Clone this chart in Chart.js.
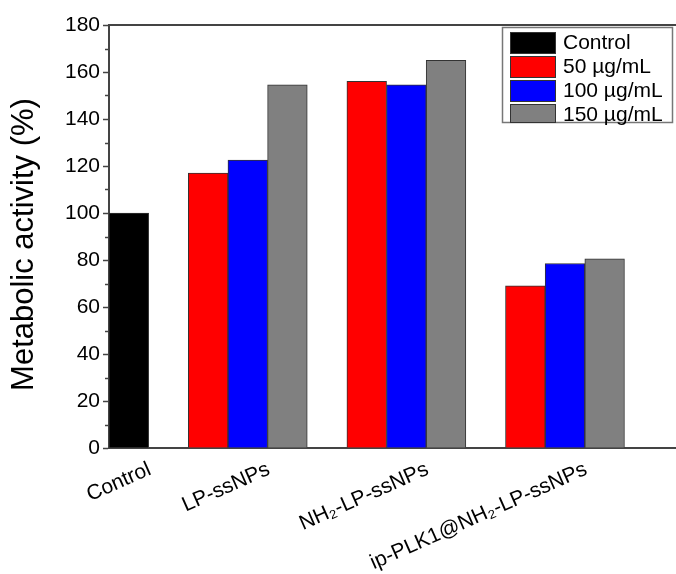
<!DOCTYPE html>
<html>
<head>
<meta charset="utf-8">
<script src="https://cdn.jsdelivr.net/npm/chart.js@4"></script>
<style>
  html, body { margin: 0; padding: 0; background: #fff; }
  #wrap { width: 676px; height: 574px; }
</style>
</head>
<body>
<div id="wrap"><canvas id="chart" width="676" height="574"></canvas></div>
<script>
// Data
const groups = ['Control', 'LP-ssNPs', 'NH₂-LP-ssNPs', 'ip-PLK1@NH₂-LP-ssNPs'];
const seriesLabels = ['Control', '50 µg/mL', '100 µg/mL', '150 µg/mL'];
const controlValues = [100];
const dose50 = [117, 156, 69];
const dose100 = [122.5, 154.5, 78.5];
const dose150 = [154.5, 165, 80.5];
const yTicks = [0, 20, 40, 60, 80, 100, 120, 140, 160, 180];
const yTitle = 'Metabolic activity (%)';

const colors = ['#000000', '#ff0000', '#0000ff', '#808080'];
const FONT = 'Liberation Sans, Arial, sans-serif';

// Slot layout: control bar alone, then groups of three bars with a one-bar gap
const controlSlot = () => 0.5;
const treatedSlot = (g, d) => 2.5 + 4 * g + d;
const groupCenters = [controlSlot(), ...[0, 1, 2].map((g) => treatedSlot(g, 1))];

const toPoints = (values, d) => values.map((y, g) => ({ x: treatedSlot(g, d), y }));

const barStyle = (i) => ({
  backgroundColor: colors[i],
  borderColor: '#333',
  borderWidth: 1,
  grouped: false,
  barPercentage: 1,
  categoryPercentage: 1,
});

// Legend box inside the plot, top frame line, minor y ticks and the y title
const extras = {
  id: 'extras',
  afterDraw(chart) {
    const { ctx, chartArea } = chart;
    const y = chart.scales.y;

    ctx.save();
    ctx.strokeStyle = '#444';
    ctx.lineWidth = 2;
    ctx.beginPath();
    ctx.moveTo(chartArea.left, chartArea.top);
    ctx.lineTo(chartArea.right, chartArea.top);
    ctx.stroke();

    ctx.lineWidth = 1.5;
    for (let v = 10; v < 180; v += 20) {
      const py = Math.round(y.getPixelForValue(v)) + 0.5;
      ctx.beginPath();
      ctx.moveTo(chartArea.left - 4, py);
      ctx.lineTo(chartArea.left, py);
      ctx.stroke();
    }

    // y axis title
    ctx.save();
    ctx.translate(24, (chartArea.top + chartArea.bottom) / 2 + 8);
    ctx.rotate(-Math.PI / 2);
    ctx.font = `31px ${FONT}`;
    ctx.fillStyle = '#000';
    ctx.textAlign = 'center';
    ctx.textBaseline = 'middle';
    ctx.fillText(yTitle, 0, 0);
    ctx.restore();

    // legend
    const bx = chartArea.right - 174;
    const by = chartArea.top + 2;
    const bw = 170;
    const bh = 95;
    ctx.fillStyle = '#fff';
    ctx.fillRect(bx, by, bw, bh);
    ctx.strokeStyle = '#777';
    ctx.lineWidth = 1.5;
    ctx.strokeRect(bx + 0.5, by + 0.5, bw, bh);

    ctx.font = `21px ${FONT}`;
    ctx.textBaseline = 'middle';
    chart.data.datasets.forEach((ds, i) => {
      const rowY = by + 5 + i * 24;
      const h = Math.min(21, by + bh - rowY);
      ctx.fillStyle = ds.backgroundColor;
      ctx.fillRect(bx + 8, rowY, 45, h);
      ctx.strokeStyle = '#333';
      ctx.lineWidth = 1;
      ctx.strokeRect(bx + 8.5, rowY + 0.5, 45, h);
      ctx.fillStyle = '#000';
      ctx.fillText(ds.label, bx + 61, rowY + 11);
    });
    ctx.restore();
  },
};

new Chart(document.getElementById('chart'), {
  type: 'bar',
  data: {
    datasets: [
      { label: seriesLabels[0], data: controlValues.map((y) => ({ x: controlSlot(), y })), ...barStyle(0) },
      { label: seriesLabels[1], data: toPoints(dose50, 0), ...barStyle(1) },
      { label: seriesLabels[2], data: toPoints(dose100, 1), ...barStyle(2) },
      { label: seriesLabels[3], data: toPoints(dose150, 2), ...barStyle(3) },
    ],
  },
  options: {
    responsive: false,
    animation: false,
    layout: { padding: { top: 25, right: 0, left: 0, bottom: 0 } },
    plugins: {
      legend: { display: false },
      tooltip: { enabled: false },
    },
    scales: {
      x: {
        type: 'linear',
        offset: false,
        min: 0,
        max: 14.3,
        afterBuildTicks: (scale) => {
          scale.ticks = groupCenters.map((value) => ({ value }));
        },
        afterFit: (scale) => {
          scale.height = 126;
        },
        grid: { display: false, drawTicks: false, offset: false },
        border: { display: true, color: '#444', width: 2 },
        ticks: {
          autoSkip: false,
          minRotation: 24,
          maxRotation: 24,
          labelOffset: 21,
          padding: 9,
          color: '#000',
          font: { family: FONT, size: 21 },
          callback: (value, index) => groups[index],
        },
      },
      y: {
        min: yTicks[0],
        max: yTicks[yTicks.length - 1],
        afterFit: (scale) => {
          scale.width = 109;
        },
        grid: {
          drawOnChartArea: false,
          tickLength: 6,
          tickWidth: 1.5,
          tickColor: '#444',
        },
        border: { display: true, color: '#444', width: 2 },
        ticks: {
          stepSize: yTicks[1] - yTicks[0],
          padding: 3,
          color: '#000',
          font: { family: FONT, size: 21 },
        },
      },
    },
  },
  plugins: [extras],
});
</script>
</body>
</html>
